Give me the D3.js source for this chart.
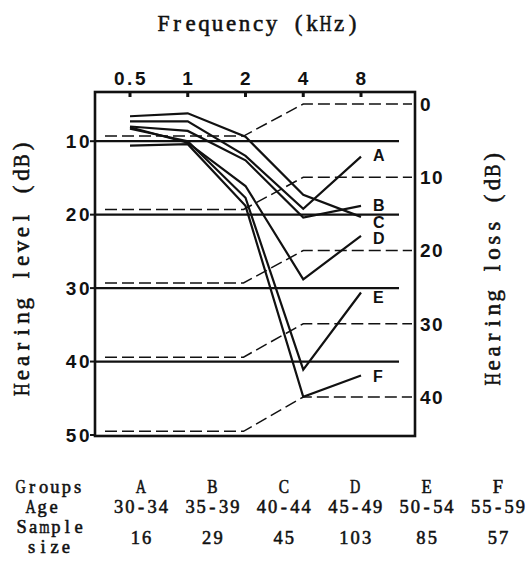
<!DOCTYPE html>
<html>
<head>
<meta charset="utf-8">
<script src="https://cdn.jsdelivr.net/npm/d3@7"></script>
<style>
  html, body { margin: 0; padding: 0; background: #fff; }
  svg { display: block; }
</style>
</head>
<body>
<div id="chart"></div>
<script>
// ---------------- data ----------------
const frequencies = [0.5, 1, 2, 4, 8];           // kHz
const freqLabels = ["0.5", "1", "2", "4", "8"];
const levelTicks = [10, 20, 30, 40, 50];           // Hearing level (dB)
const lossTicks = [0, 10, 20, 30, 40];             // Hearing loss (dB)
const gridLevels = [10, 20, 30, 40];
const groupNames = ["A", "B", "C", "D", "E", "F"];
const ageRanges = ["30-34", "35-39", "40-44", "45-49", "50-54", "55-59"];
const sampleSizes = [16, 29, 45, 103, 85, 57];
// hearing level (dB) at 0.5, 1, 2, 4, 8 kHz
const levelA = [7.3, 7.3, 12.0, 19.2, 12.1];
const levelB = [8.0, 8.6, 12.6, 20.4, 18.8];
const levelC = [6.6, 6.2, 9.4, 17.3, 20.3];
const levelD = [8.1, 10.2, 16.1, 28.8, 22.9];
const levelE = [8.3, 10.0, 17.7, 41.1, 30.6];
const levelF = [10.6, 10.4, 18.8, 44.8, 41.9];
// reference (dashed) lines: left level, then hearing-loss level after 4 kHz
const refLevels = [9.3, 19.3, 29.3, 39.4, 49.5];
const refLoss = [0, 10, 20, 30, 40];

const series = [levelA, levelB, levelC, levelD, levelE, levelF];

// ---------------- layout ----------------
const W = 528, H = 563;
const frame = { left: 95, right: 415, top: 92, bottom: 436 };
const serif = "'Liberation Serif', 'DejaVu Serif', serif";
const sans = "'Liberation Sans', Arial, sans-serif";

const svg = d3.select("#chart").append("svg")
  .attr("width", W).attr("height", H)
  .attr("viewBox", `0 0 ${W} ${H}`);

const x = d3.scaleLog().base(2).domain([0.5, 8]).range([130, 361]);
const yL = d3.scaleLinear().domain([10, 50]).range([141.2, 435]);
const yR = d3.scaleLinear().domain([0, 40]).range([104, 397]);

// fixed-pitch serif text (each glyph centred in its own cell)
function monoText(parent, txt, px, py, size, advance, anchor, rotate) {
  const g = parent.append("g")
    .attr("transform", `translate(${px},${py})` + (rotate ? ` rotate(${rotate})` : ""));
  const t = g.append("text")
    .attr("font-family", serif).attr("font-size", size)
    .attr("text-anchor", "middle")
    .attr("fill", "#111").attr("stroke", "#111").attr("stroke-width", 0.55);
  const total = txt.length * advance;
  const x0 = anchor === "middle" ? -total / 2 : anchor === "end" ? -total : 0;
  Array.from(txt).forEach((c, i) => {
    if (c === " ") return;
    const ts = t.append("tspan").attr("x", x0 + (i + 0.5) * advance).attr("y", 0).text(c);
    const w = ts.node().getComputedTextLength();
    if (w > advance * 0.9) ts.attr("textLength", advance * 0.9).attr("lengthAdjust", "spacingAndGlyphs");
  });
  return t;
}

// ---------------- titles ----------------
monoText(svg, "Frequency (kHz)", 258, 31, 23, 13.5, "middle");
monoText(svg, "Hearing level (dB)", 29, 268, 23, 14.3, "middle", -90);
monoText(svg, "Hearing loss (dB)", 500, 268, 23, 13.9, "middle", -90);

// ---------------- grid (solid) ----------------
svg.append("g").selectAll("line").data(gridLevels).join("line")
  .attr("x1", frame.left).attr("x2", frame.right - 16)
  .attr("y1", d => yL(d)).attr("y2", d => yL(d))
  .attr("stroke", "#111").attr("stroke-width", 2.2);

// ---------------- reference dashed lines ----------------
svg.append("g").selectAll("path").data(refLevels).join("path")
  .attr("d", (d, i) => {
    const p = d3.path();
    p.moveTo(frame.left + 10, yL(d));
    p.lineTo(x(2) - 2, yL(d));
    p.lineTo(x(4), yR(refLoss[i]));
    p.lineTo(frame.right - 3, yR(refLoss[i]));
    return p.toString();
  })
  .attr("fill", "none").attr("stroke", "#111")
  .attr("stroke-width", 1.5).attr("stroke-dasharray", "12,5");

// ---------------- data lines ----------------
const line = d3.line().x((d, i) => x(frequencies[i])).y(d => yL(d));
svg.append("g").selectAll("path").data(series).join("path")
  .attr("d", line)
  .attr("fill", "none").attr("stroke", "#111")
  .attr("stroke-width", 2.2).attr("stroke-linejoin", "miter");

// group labels at line ends
const labelNudge = { A: 4, B: 5, C: 11, D: 8, E: 10, F: 6 };
svg.append("g").selectAll("text").data(groupNames).join("text")
  .attr("x", x(8) + 12)
  .attr("y", (d, i) => yL(series[i][4]) + labelNudge[d])
  .attr("font-family", sans).attr("font-weight", "bold")
  .attr("font-size", 16).attr("fill", "#111")
  .text(d => d);

// ---------------- frame ----------------
svg.append("rect")
  .attr("x", frame.left).attr("y", frame.top)
  .attr("width", frame.right - frame.left).attr("height", frame.bottom - frame.top)
  .attr("fill", "none").attr("stroke", "#111").attr("stroke-width", 2.6);

// ---------------- top axis ----------------
const topAxis = svg.append("g");
topAxis.selectAll("rect").data(frequencies).join("rect")
  .attr("x", d => x(d) - 1.5).attr("y", frame.top)
  .attr("width", 3).attr("height", 5).attr("fill", "#111");
topAxis.selectAll("text").data(frequencies).join("text")
  .attr("x", d => x(d) + 1).attr("y", 85)
  .attr("text-anchor", "middle")
  .attr("font-family", sans).attr("font-weight", "bold")
  .attr("font-size", 19).attr("letter-spacing", 2.5)
  .attr("fill", "#111")
  .text((d, i) => freqLabels[i]);

// ---------------- left axis ----------------
const leftAxis = svg.append("g");
leftAxis.selectAll("line").data(levelTicks).join("line")
  .attr("x1", frame.left - 5).attr("x2", frame.left)
  .attr("y1", d => yL(d)).attr("y2", d => yL(d))
  .attr("stroke", "#111").attr("stroke-width", 2);
leftAxis.selectAll("text").data(levelTicks).join("text")
  .attr("x", frame.left - 3).attr("y", d => yL(d))
  .attr("dy", "0.36em")
  .attr("text-anchor", "end")
  .attr("font-family", sans).attr("font-weight", "bold")
  .attr("font-size", 19).attr("letter-spacing", 2.5)
  .attr("fill", "#111")
  .text(d => d);

// ---------------- right axis ----------------
const rightAxis = svg.append("g");
rightAxis.selectAll("text").data(lossTicks).join("text")
  .attr("x", frame.right + 5).attr("y", d => yR(d))
  .attr("dy", "0.36em")
  .attr("text-anchor", "start")
  .attr("font-family", sans).attr("font-weight", "bold")
  .attr("font-size", 19).attr("letter-spacing", 1.5)
  .attr("fill", "#111")
  .text(d => d);

// ---------------- table ----------------
const colX = d3.scalePoint().domain(groupNames).range([141, 498]);
const table = svg.append("g");
const fs = 18.5, adv = 11.4;
monoText(table, "Groups", 15, 493, fs, adv, "start");
monoText(table, "Age", 25, 513, fs, adv, "start");
monoText(table, "Sample", 16, 533, fs, adv, "start");
monoText(table, "size", 26, 553, fs, adv, "start");
groupNames.forEach((g, i) => {
  monoText(table, g, colX(g), 493, fs, adv, "middle");
  monoText(table, ageRanges[i], colX(g), 513, fs, 11.2, "middle");
  monoText(table, String(sampleSizes[i]), colX(g), 544, fs, adv, "middle");
});
</script>
</body>
</html>
